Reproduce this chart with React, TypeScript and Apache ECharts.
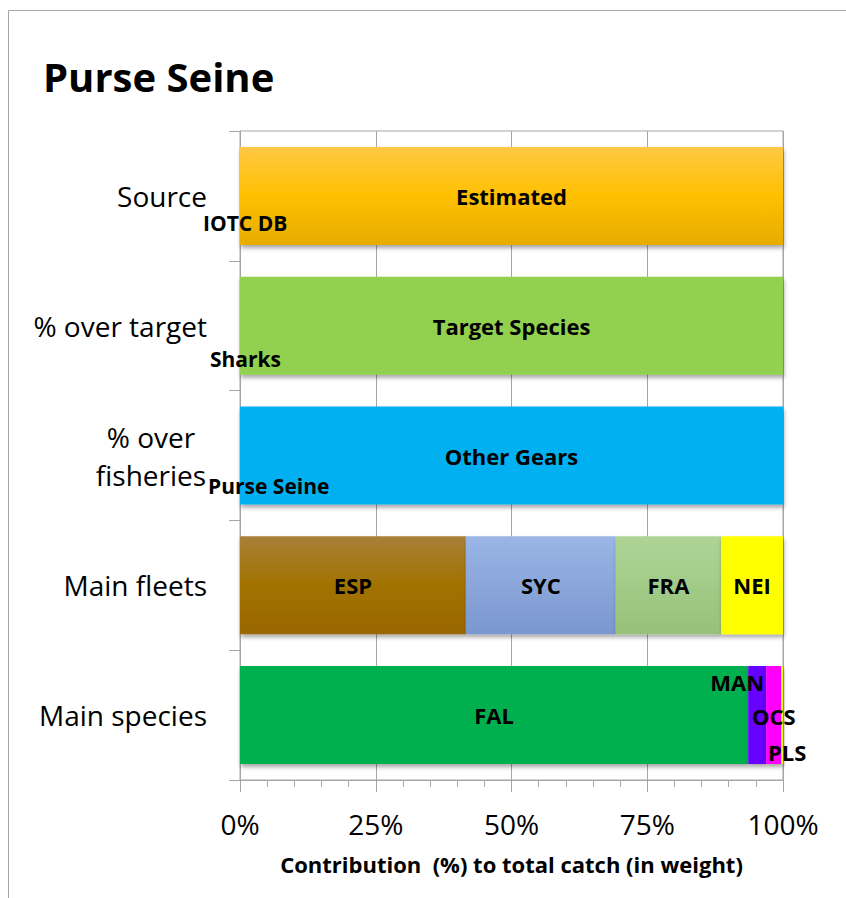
import React, { useEffect, useRef } from "react";
import * as echarts from "echarts";

const categories = ["Source", "% over target", "% over\nfisheries", "Main fleets", "Main species"];
const subLabels = ["IOTC DB", "Sharks", "Purse Seine"];

const sourceNames = ["Estimated"];
const sourceValues = [100];
const targetNames = ["Target Species"];
const targetValues = [100];
const fisheryNames = ["Other Gears"];
const fisheryValues = [100];
const fleetNames = ["ESP", "SYC", "FRA", "NEI"];
const fleetValues = [41.6, 27.6, 19.4, 11.4];
const speciesNames = ["FAL", "MAN", "OCS", "PLS"];
const speciesValues = [93.6, 3.3, 2.8, 0.3];

const xTicks = [0, 25, 50, 75, 100];

// styling (not data)
const FONT = "Open Sans";
const subLabelOffsets = [[-37, 27], [-30, 33], [-32, 30]];
const grad = (stops: [number, string][]) =>
  new echarts.graphic.LinearGradient(0, 0, 0, 1, stops.map(([offset, color]) => ({ offset, color })));
const colorMap: Record<string, any> = {
  Estimated: grad([[0, "#FFC845"], [0.5, "#FFC000"], [1, "#E6AD00"]]),
  "Target Species": "#92D050",
  "Other Gears": "#00B0F0",
  ESP: grad([[0, "#A88038"], [0.5, "#A27200"], [1, "#996700"]]),
  SYC: grad([[0, "#9AB5E6"], [1, "#7A97CF"]]),
  FRA: grad([[0, "#AED496"], [1, "#97C17A"]]),
  NEI: "#FFFF00",
  FAL: "#00B050",
  MAN: "#6600FF",
  OCS: "#FF00FF",
  PLS: "#FFFF00",
};
const labelOffsets: Record<string, number[]> = {
  MAN: [-20, -33],
  OCS: [0, 1],
  PLS: [5, 37],
};

export default function App() {
  const ref = useRef<HTMLDivElement>(null);
  useEffect(() => {
    document.body.style.margin = "0";
    if (!ref.current) return;
    const chart = echarts.init(ref.current, undefined, { renderer: "svg" });

    const rows: [string[], number[]][] = [
      [sourceNames, sourceValues],
      [targetNames, targetValues],
      [fisheryNames, fisheryValues],
      [fleetNames, fleetValues],
      [speciesNames, speciesValues],
    ];
    const barSeries: any[] = [];
    rows.forEach(([names, values], rowIdx) => {
      names.forEach((name, k) => {
        const data = categories.map((_, i) => (i === rowIdx ? values[k] : null));
        barSeries.push({
          type: "bar",
          name,
          stack: "total",
          barWidth: 98,
          data,
          itemStyle: {
            color: colorMap[name],
            shadowColor: "rgba(0,0,0,0.35)",
            shadowBlur: 4,
            shadowOffsetX: 1,
            shadowOffsetY: 3,
          },
          label: {
            show: true,
            position: "inside",
            formatter: "{a}",
            fontFamily: FONT,
            fontWeight: "bold",
            fontSize: 22,
            color: "#000",
            offset: labelOffsets[name] || [0, 0],
          },
        });
      });
    });

    const subSeries = {
      type: "scatter",
      symbolSize: 0,
      silent: true,
      z: 10,
      itemStyle: { opacity: 1 },
      data: subLabels.map((t, i) => ({
        value: [xTicks[0], i],
        name: t,
        label: { offset: subLabelOffsets[i] },
      })),
      label: {
        show: true,
        position: "right",
        distance: 0,
        formatter: "{b}",
        fontFamily: FONT,
        fontWeight: "bold",
        fontSize: 21,
        color: "#000",
        opacity: 1,
      },
    };

    chart.setOption({
      animation: false,
      title: {
        text: "Purse Seine",
        left: 38,
        top: 51,
        textStyle: { fontFamily: FONT, fontWeight: "bold", fontSize: 40, color: "#000" },
      },
      graphic: [
        {
          type: "rect",
          silent: true,
          z: -10,
          shape: { x: 8.5, y: 10.5, width: 900, height: 900 },
          style: { fill: "none", stroke: "#A6A6A6", lineWidth: 1 },
        },
      ],
      grid: {
        left: 240,
        right: 63,
        top: 131,
        bottom: 118,
        show: true,
        borderColor: "#A6A6A6",
        borderWidth: 1,
      },
      xAxis: {
        type: "value",
        min: xTicks[0],
        max: xTicks[xTicks.length - 1],
        interval: 25,
        axisLine: { show: true, lineStyle: { color: "#A6A6A6" } },
        axisTick: { show: true, length: 12, lineStyle: { color: "#A6A6A6" } },
        minorTick: { show: true, splitNumber: 5, length: 7, lineStyle: { color: "#A6A6A6" } },
        splitLine: { show: true, lineStyle: { color: "#A6A6A6", width: 1 } },
        axisLabel: {
          formatter: "{value}%",
          fontFamily: FONT,
          fontSize: 28,
          color: "#000",
          margin: 29,
          lineHeight: 30,
        },
        name: "Contribution  (%) to total catch (in weight)",
        nameLocation: "middle",
        nameGap: 73,
        nameTextStyle: { fontFamily: FONT, fontWeight: "bold", fontSize: 22, color: "#000" },
      },
      yAxis: {
        type: "category",
        data: categories,
        inverse: true,
        axisLine: { show: true, lineStyle: { color: "#A6A6A6" } },
        axisTick: { show: true, length: 11, lineStyle: { color: "#A6A6A6" } },
        splitLine: { show: false },
        axisLabel: {
          fontFamily: FONT,
          fontSize: 28,
          color: "#000",
          margin: 33,
          lineHeight: 38,
          formatter: (v: string) =>
            v.includes("\n") ? v.split("\n").map((l) => `{c|${l}}`).join("\n") : v,
          rich: {
            c: { fontFamily: FONT, fontSize: 28, color: "#000", width: 112, align: "center", lineHeight: 38 },
          },
        },
      },
      series: [...barSeries, subSeries],
    });
    return () => chart.dispose();
  }, []);
  return <div ref={ref} style={{ width: 846, height: 898 }} />;
}
